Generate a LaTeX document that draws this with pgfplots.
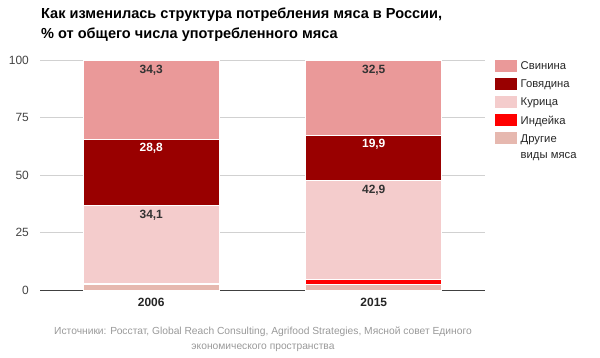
\documentclass[border=0pt]{standalone}
\usepackage{fontspec}
\setmainfont{Liberation Sans}
\usepackage{pgfplots}
\pgfplotsset{compat=1.18}
\definecolor{pork}{HTML}{EA9999}
\definecolor{beef}{HTML}{990000}
\definecolor{chick}{HTML}{F4CCCC}
\definecolor{turkey}{HTML}{FF0000}
\definecolor{other}{HTML}{E6B8AF}
\definecolor{ticktxt}{HTML}{444444}
\definecolor{lbl}{HTML}{333333}
\definecolor{src}{HTML}{999999}
\begin{document}
\begin{tikzpicture}[x=1bp,y=1bp]
\path (0,0) rectangle (600,357);
\node[anchor=base west, inner sep=0, font=\fontsize{14.6}{19.5}\selectfont\bfseries, align=left] at (41,319) {Как изменилась структура потребления мяса в России,\\\% от общего числа употребленного мяса};
\begin{axis}[at={(40bp,67bp)}, anchor=south west, scale only axis,
  width=445bp, height=229.5bp,
  ybar stacked, bar width=136bp,
  xmin=-0.5, xmax=1.5, ymin=0, ymax=100,
  ytick={0,25,50,75,100},
  xtick={0,1}, xticklabels={2006,2015},
  axis line style={draw=none},
  major tick length=0pt,
  ymajorgrids, grid style={color=black!18, line width=0.8bp},
  extra y ticks={0}, extra y tick labels={},
  extra y tick style={grid style={color=black!75, line width=1bp}},
  yticklabel style={font=\fontsize{12}{14}\selectfont, text=ticktxt, inner sep=0pt, xshift=-11bp},
  xticklabel style={font=\fontsize{12}{14}\selectfont\bfseries, text=black!85, inner sep=0pt, yshift=-8bp},
  /pgf/number format/assume math mode=true,
  every axis plot/.append style={draw=white, line width=0.8bp},
  point meta=explicit symbolic,
  visualization depends on=rawy\as\rawy,
  lab/.style={nodes near coords, every node near coord/.style={anchor=center, yshift=\rawy*1.1475bp-9.5bp, font=\fontsize{12}{14}\selectfont\bfseries, text=#1}},
  reverse legend,
  legend style={at={(1.0225,1.004)}, anchor=north west, draw=none, fill=none,
    inner sep=0pt, row sep=5.6bp,
    nodes={font=\fontsize{11.3}{16}\selectfont, text=black!85, inner ysep=1bp, inner xsep=3.5bp, anchor=base west}},
  legend cell align=left,
  legend image code/.code={\path[#1, draw=none] (0bp,-2bp) rectangle (22bp,10bp);},
]
\addplot[fill=other] coordinates {(0,2.4) (1,2.5)};
\addplot[fill=turkey] coordinates {(0,0.4) (1,2.2)};
\addplot[fill=chick, lab=lbl] coordinates {(0,34.1) [34,1] (1,42.9) [42,9]};
\addplot[fill=beef, lab=white] coordinates {(0,28.8) [28,8] (1,19.9) [19,9]};
\addplot[fill=pork, lab=lbl] coordinates {(0,34.3) [34,3] (1,32.5) [32,5]};
\legend{{\vtop{\hbox{Другие}\hbox{виды мяса}}}, Индейка, Курица, Говядина, Свинина}
\end{axis}
\node[anchor=base, inner sep=0, font=\fontsize{10.3}{15}\selectfont, text=src, align=center] at (263,8) {Источники: Росстат, Global Reach Consulting, Agrifood Strategies, Мясной совет Единого\\экономического пространства};
\end{tikzpicture}
\end{document}
